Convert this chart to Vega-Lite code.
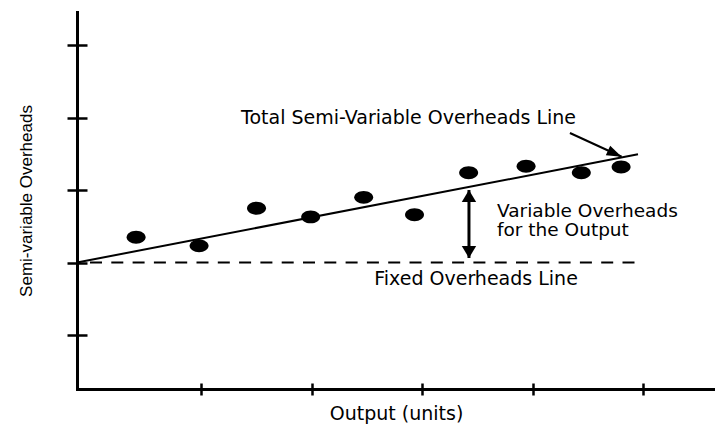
{
  "$schema": "https://vega.github.io/schema/vega-lite/v6.json",
  "width": 638,
  "height": 377,
  "autosize": {"type": "none"},
  "padding": {"left": 77, "top": 12, "right": 0, "bottom": 35},
  "background": "white",
  "config": {
    "view": {"stroke": null},
    "axis": {
      "grid": false,
      "labels": false,
      "domainColor": "black",
      "tickColor": "black",
      "domainWidth": 3,
      "domainCap": "square",
      "tickWidth": 2.5,
      "titleColor": "black",
      "titleFontWeight": "normal"
    }
  },
  "datasets": {
    "points": [
      {"x": 0.41, "y": 2.35}, {"x": 0.98, "y": 2.23}, {"x": 1.50, "y": 2.75},
      {"x": 1.99, "y": 2.63}, {"x": 2.47, "y": 2.90}, {"x": 2.93, "y": 2.66},
      {"x": 3.42, "y": 3.24}, {"x": 3.94, "y": 3.33}, {"x": 4.44, "y": 3.24},
      {"x": 4.80, "y": 3.32}
    ],
    "trend": [{"x": -0.125, "y": 2}, {"x": 4.953, "y": 3.494}],
    "fixed": [{"x": -0.125, "y": 2}, {"x": 4.953, "y": 2}],
    "arrows": [
      {"arrow": "variable", "x": 3.423, "y": 2.062, "x2": 3.423, "y2": 3.001},
      {"arrow": "total", "x": 4.337, "y": 3.789, "x2": 4.805, "y2": 3.461}
    ],
    "labels": [
      {"label": "Total Semi-Variable Overheads Line", "x": 2.876, "y": 3.913},
      {"label": "Variable Overheads", "x": 3.677, "y": 2.635},
      {"label": "for the Output", "x": 3.677, "y": 2.366},
      {"label": "Fixed Overheads Line", "x": 3.487, "y": 1.696}
    ]
  },
  "layer": [
    {
      "encoding": {
        "x": {"field": "x", "type": "quantitative",
          "scale": {"domain": [-0.125, 5.65], "nice": false, "zero": false},
          "axis": {"orient": "bottom", "title": "Output (units)", "values": [1, 2, 3, 4, 5], "tickSize": 6,
            "titleFont": "DejaVu Sans", "titleFontSize": 19, "titlePadding": 8}},
        "y": {"field": "y", "type": "quantitative",
          "scale": {"domain": [0.253, 5.46], "nice": false, "zero": false},
          "axis": {"orient": "left", "title": "Semi-variable Overheads", "values": [1, 2, 3, 4, 5], "tickSize": 10,
            "titleFont": "Liberation Sans", "titleFontSize": 17, "titlePadding": 30}}
      },
      "layer": [
        {"data": {"name": "fixed"},
         "mark": {"type": "line", "color": "black", "strokeWidth": 1.8, "strokeDash": [12, 9.3], "strokeDashOffset": 8.3}},
        {"data": {"name": "trend"},
         "mark": {"type": "line", "color": "black", "strokeWidth": 2}},
        {"data": {"name": "points"},
         "mark": {"type": "point", "shape": "M-1,0A1,0.68 0 1,0 1,0A1,0.68 0 1,0 -1,0Z", "size": 361,
           "filled": true, "color": "black", "opacity": 1}},
        {"data": {"name": "arrows"},
         "transform": [{"filter": "datum.arrow == 'variable'"}],
         "mark": {"type": "rule", "color": "black", "strokeWidth": 3},
         "encoding": {"x2": {"field": "x2"}, "y2": {"field": "y2"}}},
        {"data": {"name": "arrows"},
         "transform": [{"filter": "datum.arrow == 'total'"}],
         "mark": {"type": "rule", "color": "black", "strokeWidth": 2},
         "encoding": {"x2": {"field": "x2"}, "y2": {"field": "y2"}}},
        {"data": {"name": "arrows"},
         "transform": [{"filter": "datum.arrow == 'variable'"}],
         "mark": {"type": "point", "shape": "M0,0L-0.6,1L0.6,1Z", "size": 576, "filled": true, "color": "black", "opacity": 1},
         "encoding": {"x": {"field": "x2", "type": "quantitative"}, "y": {"field": "y2", "type": "quantitative"}}},
        {"data": {"name": "arrows"},
         "transform": [{"filter": "datum.arrow == 'variable'"}],
         "mark": {"type": "point", "shape": "M0,0L-0.6,-1L0.6,-1Z", "size": 576, "filled": true, "color": "black", "opacity": 1}},
        {"data": {"name": "arrows"},
         "transform": [{"filter": "datum.arrow == 'total'"}],
         "mark": {"type": "point", "shape": "M0,0L-1,-0.35L-1,0.35Z", "size": 900, "angle": 24.5, "filled": true, "color": "black", "opacity": 1},
         "encoding": {"x": {"field": "x2", "type": "quantitative"}, "y": {"field": "y2", "type": "quantitative"}}},
        {"data": {"name": "labels"},
         "transform": [{"filter": "datum.label == 'Total Semi-Variable Overheads Line' || datum.label == 'Fixed Overheads Line'"}],
         "mark": {"type": "text", "align": "center", "baseline": "alphabetic", "font": "DejaVu Sans", "fontSize": 19, "color": "black"},
         "encoding": {"text": {"field": "label"}}},
        {"data": {"name": "labels"},
         "transform": [{"filter": "datum.label == 'Variable Overheads' || datum.label == 'for the Output'"}],
         "mark": {"type": "text", "align": "left", "baseline": "alphabetic", "font": "DejaVu Sans", "fontSize": 18.5, "color": "black"},
         "encoding": {"text": {"field": "label"}}}
      ]
    },
    {
      "data": {"name": "points"},
      "mark": {"type": "point", "opacity": 0},
      "encoding": {
        "x": {"field": "x", "type": "quantitative",
          "scale": {"domain": [-0.125, 5.65], "nice": false, "zero": false},
          "axis": {"orient": "bottom", "title": null, "domain": false, "values": [1, 2, 3, 4, 5], "tickSize": 6, "offset": -6}},
        "y": {"field": "y", "type": "quantitative",
          "scale": {"domain": [0.253, 5.46], "nice": false, "zero": false},
          "axis": {"orient": "left", "title": null, "domain": false, "values": [1, 2, 3, 4, 5], "tickSize": 10, "offset": -10}}
      }
    }
  ],
  "resolve": {
    "scale": {"x": "independent", "y": "independent"},
    "axis": {"x": "independent", "y": "independent"}
  }
}
